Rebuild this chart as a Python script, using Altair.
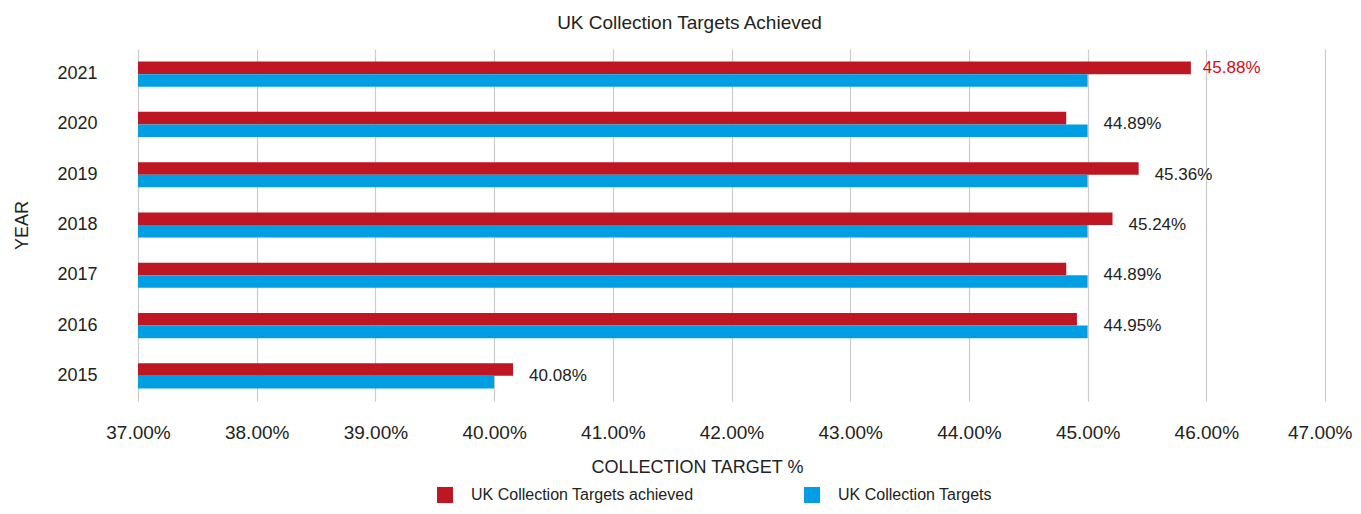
import altair as alt
import pandas as pd

years = ["2021", "2020", "2019", "2018", "2017", "2016", "2015"]
achieved = [45.87, 44.82, 45.43, 45.21, 44.82, 44.91, 40.16]
targets = [45.0, 45.0, 45.0, 45.0, 45.0, 45.0, 40.0]
label_text = ["45.88%", "44.89%", "45.36%", "45.24%", "44.89%", "44.95%", "40.08%"]
label_highlight = [True, False, False, False, False, False, False]
series_names = ["UK Collection Targets achieved", "UK Collection Targets"]
series_colors = ["#BE1622", "#009FE3"]
x_ticks = [37, 38, 39, 40, 41, 42, 43, 44, 45, 46, 47]

rows = []
for y, a, t in zip(years, achieved, targets):
    rows.append({"year": y, "series": series_names[0], "value": a})
    rows.append({"year": y, "series": series_names[1], "value": t})
bars_df = pd.DataFrame(rows)

labels_df = pd.DataFrame({
    "year": years,
    "pos": [max(a, t) for a, t in zip(achieved, targets)],
    "label": label_text,
    "highlight": label_highlight,
    "series": [series_names[0]] * len(years),
})

FONT = "Liberation Sans"
last_tick = x_ticks[-1]

y_enc = alt.Y("year:N", sort=years,
              scale=alt.Scale(paddingInner=0, paddingOuter=0),
              axis=alt.Axis(title="YEAR", labelFontSize=18, labelColor="#222222",
                            labelPadding=41, ticks=False, domain=False,
                            titleFontSize=18, titleFontWeight="normal", titleColor="#222222",
                            titleAngle=-90, titleX=-116, titleY=176,
                            titleAlign="center", titleBaseline="middle"))

y_off = alt.YOffset("series:N", sort=series_names,
                    scale=alt.Scale(paddingInner=0, paddingOuter=1.0))

x_enc = alt.X("value:Q",
              scale=alt.Scale(domain=[x_ticks[0], x_ticks[-1]], nice=False, zero=False),
              axis=alt.Axis(values=x_ticks, labelExpr="format(datum.value, '.2f') + '%'",
                            grid=True, gridColor="#cccccc", gridWidth=1.2,
                            ticks=False, domain=False, labelFontSize=19,
                            labelFlush=False, labelOverlap=False,
                            labelAlign=alt.ExprRef(f"datum.value == {last_tick} ? 'right' : 'center'"),
                            labelOffset=alt.ExprRef(f"datum.value == {last_tick} ? 27 : 0"),
                            labelColor="#222222", labelPadding=22,
                            title="COLLECTION TARGET %", titleFontSize=18,
                            titleFontWeight="normal", titleColor="#222222",
                            titleX=559, titleY=71, titleBaseline="alphabetic",
                            titleAlign="center"))

bars = alt.Chart(bars_df).mark_bar().encode(
    y=y_enc,
    yOffset=y_off,
    x=x_enc,
    x2=alt.datum(x_ticks[0]),
    color=alt.Color("series:N", sort=series_names,
                    scale=alt.Scale(domain=series_names, range=series_colors),
                    legend=alt.Legend(title=None, orient="none", direction="horizontal",
                                      legendX=299, legendY=438,
                                      symbolType="square", symbolSize=256,
                                      symbolStrokeWidth=0,
                                      labelFontSize=16, labelColor="#222222",
                                      labelOffset=18, columnPadding=110,
                                      labelLimit=400)),
)

text_plain = alt.Chart(labels_df).transform_filter("!datum.highlight").mark_text(
    align="left", baseline="middle", dx=16, fontSize=17, color="#222222", font=FONT
).encode(
    y=alt.Y("year:N", sort=years),
    x=alt.X("pos:Q"),
    text="label:N",
)

text_hl = alt.Chart(labels_df).transform_filter("datum.highlight").mark_text(
    align="left", baseline="middle", dx=12, fontSize=17, color="#E30613", font=FONT
).encode(
    y=alt.Y("year:N", sort=years),
    yOffset=alt.YOffset("series:N", sort=series_names),
    x=alt.X("pos:Q"),
    text="label:N",
)

chart = alt.layer(bars, text_plain, text_hl).properties(
    width=1187, height=352,
    autosize=alt.AutoSizeParams(type="none"),
    padding={"left": 130, "top": 41, "right": 28, "bottom": 105},
    title=alt.TitleParams("UK Collection Targets Achieved", fontSize=19,
                          fontWeight="normal", color="#222222", anchor="middle",
                          frame="group", dx=-42, offset=16, font=FONT),
).configure(font=FONT).configure_view(stroke=None)

chart.save("out.html", embed_options={"renderer": "svg", "actions": False})
